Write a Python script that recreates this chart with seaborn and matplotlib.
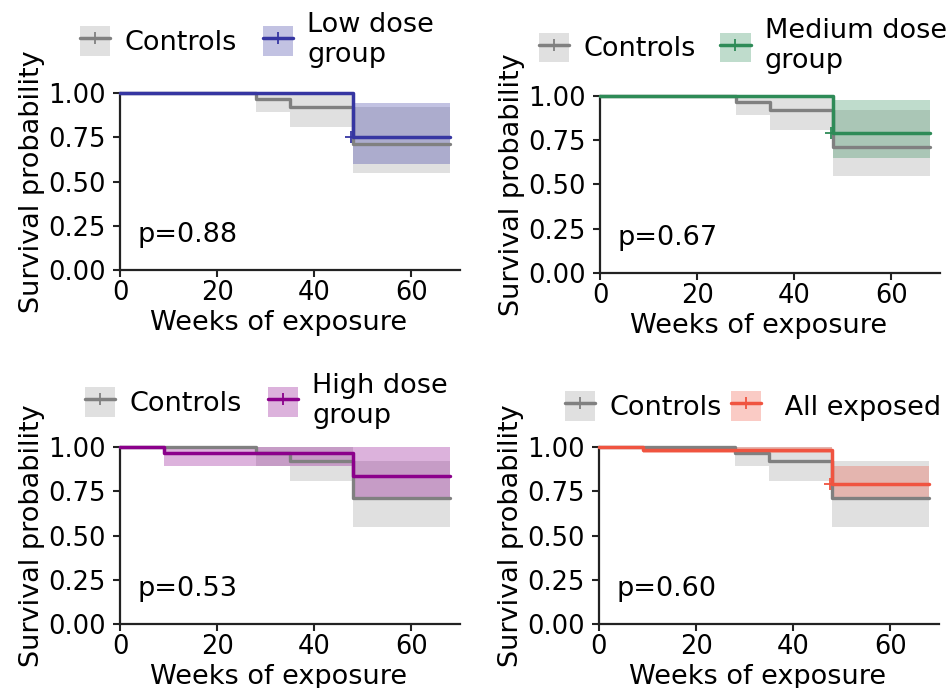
import matplotlib
matplotlib.use("Agg")
import matplotlib.pyplot as plt
from matplotlib.patches import Patch
from matplotlib.lines import Line2D
import seaborn as sns
import pandas as pd

# ---------------- data ----------------
ctrl_weeks = [0, 28, 35, 48, 68]
ctrl_surv = [1.00, 0.966, 0.92, 0.71, 0.71]
ctrl_lo = [1.00, 0.89, 0.81, 0.55, 0.55]
ctrl_hi = [1.00, 1.00, 1.00, 0.92, 0.92]

low_weeks = [0, 48, 68]
low_surv = [1.00, 0.75, 0.75]
low_lo = [1.00, 0.60, 0.60]
low_hi = [1.00, 0.945, 0.945]

med_weeks = [0, 48, 68]
med_surv = [1.00, 0.79, 0.79]
med_lo = [1.00, 0.65, 0.65]
med_hi = [1.00, 0.975, 0.975]

high_weeks = [0, 9, 48, 68]
high_surv = [1.00, 0.966, 0.835, 0.835]
high_lo = [1.00, 0.89, 0.70, 0.70]
high_hi = [1.00, 1.00, 1.00, 1.00]

all_weeks = [0, 9, 48, 68]
all_surv = [1.00, 0.985, 0.79, 0.79]
all_lo = [1.00, 0.965, 0.70, 0.70]
all_hi = [1.00, 1.00, 0.893, 0.893]

censor_week = [47.5, 47.5, None, 47.5]
p_values = ["p=0.88", "p=0.67", "p=0.53", "p=0.60"]
group_labels = ["Low dose\ngroup", "Medium dose\ngroup", "High dose\ngroup",
                " All exposed"]
group_colors = ["#3636a2", "#2e8b57", "#8b008b", "#f05440"]
ctrl_color = "#808080"

groups = [
    (low_weeks, low_surv, low_lo, low_hi),
    (med_weeks, med_surv, med_lo, med_hi),
    (high_weeks, high_surv, high_lo, high_hi),
    (all_weeks, all_surv, all_lo, all_hi),
]

# ---------------- style ----------------
sns.set_style("ticks")
plt.rcParams["font.family"] = ["DejaVu Sans"]
plt.rcParams["axes.edgecolor"] = "#222222"
plt.rcParams["text.color"] = "black"
plt.rcParams["axes.labelcolor"] = "black"

fig = plt.figure(figsize=(9.5, 6.88), dpi=100)
W, H = 950.0, 688.0
rects = [(120, 270), (600, 273), (120, 624), (599, 624)]
leg_x = [-0.118, -0.18, -0.103, -0.10]
leg_y = [1.30, 1.28, 1.26, 1.23]
leg_colsp = [0.95, 0.9, 0.95, 0.33]

for i, ((x0, ybot), (wk, sv, lo, hi)) in enumerate(zip(rects, groups)):
    ax = fig.add_axes([x0 / W, 1 - ybot / H, 340 / W, 177 / H])
    col = group_colors[i]

    # confidence bands
    ax.fill_between(ctrl_weeks, ctrl_lo, ctrl_hi, step="post",
                    color=ctrl_color, alpha=0.24, lw=0, zorder=1)
    ax.fill_between(wk, lo, hi, step="post", color=col, alpha=0.3, lw=0, zorder=2)

    # KM curves
    dfc = pd.DataFrame({"week": ctrl_weeks, "surv": ctrl_surv})
    dfg = pd.DataFrame({"week": wk, "surv": sv})
    sns.lineplot(data=dfc, x="week", y="surv", ax=ax, color=ctrl_color,
                 drawstyle="steps-post", lw=2.4, estimator=None, zorder=3,
                 clip_on=False)
    sns.lineplot(data=dfg, x="week", y="surv", ax=ax, color=col,
                 drawstyle="steps-post", lw=2.5, estimator=None, zorder=4,
                 clip_on=False)
    if censor_week[i] is not None:
        ax.plot([censor_week[i]], [sv[-1]], marker="+", color=col, ms=9,
                mew=1.3, zorder=5)

    ax.set_xlim(0, 70)
    ax.set_ylim(0, 1.0)
    ax.set_xticks([0, 20, 40, 60])
    ax.set_yticks([0, 0.25, 0.5, 0.75, 1.0])
    ax.set_yticklabels(["0.00", "0.25", "0.50", "0.75", "1.00"])
    ax.tick_params(labelsize=18.5, length=5, width=1.5, colors="#222222",
                   labelcolor="black")
    ax.tick_params(axis="y", pad=5)
    ax.tick_params(axis="x", pad=2)
    for s in ("left", "bottom"):
        ax.spines[s].set_linewidth(1.6)
    sns.despine(ax=ax)
    ax.set_xlabel("Weeks of exposure", fontsize=19.5)
    ax.set_ylabel("Survival probability", fontsize=19.5)
    ax.xaxis.set_label_coords(0.465, -0.225)
    ax.yaxis.set_label_coords(-0.22, 0.5)
    ax.text(3.7, 0.2, p_values[i], fontsize=19.5, va="center", ha="left")

    handles = [
        (Patch(facecolor=ctrl_color, alpha=0.24, lw=0),
         Line2D([], [], color=ctrl_color, lw=2.5, marker="+", ms=9, mew=1.3)),
        (Patch(facecolor=col, alpha=0.3, lw=0),
         Line2D([], [], color=col, lw=2.5, marker="+", ms=9, mew=1.3)),
    ]
    ax.legend(handles, ["Controls", group_labels[i]], loc="center left",
              bbox_to_anchor=(leg_x[i], leg_y[i]), ncol=2, frameon=False,
              fontsize=19.5, handlelength=1.12, handleheight=1.3,
              handletextpad=0.53, columnspacing=leg_colsp[i],
              borderaxespad=0, borderpad=0)

fig.savefig("out.png", dpi=100)
